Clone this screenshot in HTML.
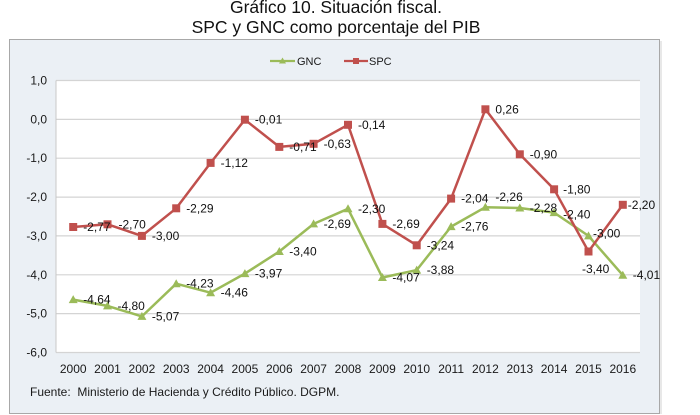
<!DOCTYPE html>
<html><head><meta charset="utf-8">
<style>
html,body{margin:0;padding:0;background:#fff;}
svg{display:block;font-family:"Liberation Sans",Arial,sans-serif;}
</style></head>
<body>
<svg width="700" height="415" viewBox="0 0 700 415" xmlns="http://www.w3.org/2000/svg">
<rect x="0" y="0" width="700" height="415" fill="#fff"/>
<text x="336" y="13" font-size="17.5" text-anchor="middle" fill="#111">Gráfico 10. Situación fiscal.</text>
<text x="336" y="33" font-size="17.5" text-anchor="middle" fill="#111">SPC y GNC como porcentaje del PIB</text>
<rect x="9.5" y="39.5" width="650" height="374" fill="#ebf0f5" stroke="#a8a8a8" stroke-width="1"/>
<line x1="661" y1="41" x2="661" y2="414" stroke="#d0d0d0" stroke-width="1"/>
<rect x="56" y="80.5" width="584" height="272" fill="#fff"/>
<g stroke="#d4d4d4" stroke-width="1.2">
<line x1="56" y1="80.5" x2="640" y2="80.5"/>
<line x1="56" y1="119.4" x2="640" y2="119.4"/>
<line x1="56" y1="158.2" x2="640" y2="158.2"/>
<line x1="56" y1="197.1" x2="640" y2="197.1"/>
<line x1="56" y1="235.9" x2="640" y2="235.9"/>
<line x1="56" y1="274.8" x2="640" y2="274.8"/>
<line x1="56" y1="313.6" x2="640" y2="313.6"/>
<line x1="56" y1="352.5" x2="640" y2="352.5"/>
</g>
<line x1="56" y1="80.5" x2="56" y2="352.5" stroke="#c8c8c8" stroke-width="1"/>
<g font-size="12" fill="#1a1a1a" text-anchor="end">
<text x="47" y="84.5">1,0</text>
<text x="47" y="123.4">0,0</text>
<text x="47" y="162.2">-1,0</text>
<text x="47" y="201.1">-2,0</text>
<text x="47" y="239.9">-3,0</text>
<text x="47" y="278.8">-4,0</text>
<text x="47" y="317.6">-5,0</text>
<text x="47" y="356.5">-6,0</text>
</g>
<g font-size="12" fill="#1a1a1a" text-anchor="middle">
<text x="73.2" y="373">2000</text>
<text x="107.5" y="373">2001</text>
<text x="141.9" y="373">2002</text>
<text x="176.2" y="373">2003</text>
<text x="210.6" y="373">2004</text>
<text x="244.9" y="373">2005</text>
<text x="279.3" y="373">2006</text>
<text x="313.6" y="373">2007</text>
<text x="348.0" y="373">2008</text>
<text x="382.4" y="373">2009</text>
<text x="416.7" y="373">2010</text>
<text x="451.1" y="373">2011</text>
<text x="485.4" y="373">2012</text>
<text x="519.8" y="373">2013</text>
<text x="554.1" y="373">2014</text>
<text x="588.5" y="373">2015</text>
<text x="622.8" y="373">2016</text>
</g>
<text x="30" y="396" font-size="12" fill="#1a1a1a" xml:space="preserve">Fuente:  Ministerio de Hacienda y Crédito Público. DGPM.</text>
<!-- legend -->
<line x1="270" y1="61" x2="295" y2="61" stroke="#9bbb59" stroke-width="2.2"/>
<path d="M282.5,57.5 L286,63.5 L279,63.5 Z" fill="#9bbb59"/>
<text x="297" y="65" font-size="11" fill="#1a1a1a">GNC</text>
<line x1="344" y1="61" x2="368" y2="61" stroke="#c0504d" stroke-width="2.2"/>
<rect x="353" y="58" width="6" height="6" fill="#c0504d"/>
<text x="369" y="65" font-size="11" fill="#1a1a1a">SPC</text>
<!-- GNC series -->
<polyline fill="none" stroke="#9bbb59" stroke-width="2.5" stroke-linejoin="round" points="73.2,299.6 107.5,305.9 141.9,316.4 176.2,283.7 210.6,292.7 244.9,273.6 279.3,251.5 313.6,223.9 348.0,208.8 382.4,277.5 416.7,270.1 451.1,226.6 485.4,207.2 519.8,208.0 554.1,212.6 588.5,235.9 622.8,275.2"/>
<g fill="#9bbb59">
<path d="M73.2,295.1 L77.7,303.1 L68.7,303.1 Z"/>
<path d="M107.5,301.4 L112,309.4 L103,309.4 Z"/>
<path d="M141.9,311.9 L146.4,319.9 L137.4,319.9 Z"/>
<path d="M176.2,279.2 L180.7,287.2 L171.7,287.2 Z"/>
<path d="M210.6,288.2 L215.1,296.2 L206.1,296.2 Z"/>
<path d="M244.9,269.1 L249.4,277.1 L240.4,277.1 Z"/>
<path d="M279.3,247 L283.8,255 L274.8,255 Z"/>
<path d="M313.6,219.4 L318.1,227.4 L309.1,227.4 Z"/>
<path d="M348.0,204.3 L352.5,212.3 L343.5,212.3 Z"/>
<path d="M382.4,273 L386.9,281 L377.9,281 Z"/>
<path d="M416.7,265.6 L421.2,273.6 L412.2,273.6 Z"/>
<path d="M451.1,222.1 L455.6,230.1 L446.6,230.1 Z"/>
<path d="M485.4,202.7 L489.9,210.7 L480.9,210.7 Z"/>
<path d="M519.8,203.5 L524.3,211.5 L515.3,211.5 Z"/>
<path d="M554.1,208.1 L558.6,216.1 L549.6,216.1 Z"/>
<path d="M588.5,231.4 L593,239.4 L584,239.4 Z"/>
<path d="M622.8,270.7 L627.3,278.7 L618.3,278.7 Z"/>
</g>
<!-- SPC series -->
<polyline fill="none" stroke="#c0504d" stroke-width="2.5" stroke-linejoin="round" points="73.2,227.0 107.5,224.3 141.9,235.9 176.2,208.3 210.6,162.9 244.9,119.7 279.3,146.9 313.6,143.8 348.0,124.8 382.4,223.9 416.7,245.3 451.1,198.6 485.4,109.3 519.8,154.3 554.1,189.3 588.5,251.5 622.8,204.8"/>
<g fill="#c0504d">
<rect x="69.2" y="223" width="8" height="8"/>
<rect x="103.5" y="220.3" width="8" height="8"/>
<rect x="137.9" y="231.9" width="8" height="8"/>
<rect x="172.2" y="204.3" width="8" height="8"/>
<rect x="206.6" y="158.9" width="8" height="8"/>
<rect x="240.9" y="115.7" width="8" height="8"/>
<rect x="275.3" y="142.9" width="8" height="8"/>
<rect x="309.6" y="139.8" width="8" height="8"/>
<rect x="344" y="120.8" width="8" height="8"/>
<rect x="378.4" y="219.9" width="8" height="8"/>
<rect x="412.7" y="241.3" width="8" height="8"/>
<rect x="447.1" y="194.6" width="8" height="8"/>
<rect x="481.4" y="105.3" width="8" height="8"/>
<rect x="515.8" y="150.3" width="8" height="8"/>
<rect x="550.1" y="185.3" width="8" height="8"/>
<rect x="584.5" y="247.5" width="8" height="8"/>
<rect x="618.8" y="200.8" width="8" height="8"/>
</g>
<!-- GNC labels -->
<g font-size="12" fill="#111">
<text x="83.2" y="303.6">-4,64</text>
<text x="117.5" y="309.9">-4,80</text>
<text x="151.9" y="320.4">-5,07</text>
<text x="186.2" y="287.7">-4,23</text>
<text x="220.6" y="296.7">-4,46</text>
<text x="254.9" y="277.6">-3,97</text>
<text x="289.3" y="255.5">-3,40</text>
<text x="323.6" y="227.9">-2,69</text>
<text x="358" y="212.8">-2,30</text>
<text x="392.4" y="281.5">-4,07</text>
<text x="426.7" y="274.1">-3,88</text>
<text x="461.1" y="230.6">-2,76</text>
<text x="495.4" y="201.2">-2,26</text>
<text x="529.8" y="212">-2,28</text>
<text x="563.1" y="218.6">-2,40</text>
<text x="593" y="237.5">-3,00</text>
<text x="632.8" y="279.2">-4,01</text>
</g>
<!-- SPC labels -->
<g font-size="12" fill="#111">
<text x="83.2" y="231">-2,77</text>
<text x="118.5" y="228.3">-2,70</text>
<text x="151.9" y="239.9">-3,00</text>
<text x="186.2" y="212.3">-2,29</text>
<text x="220.6" y="166.9">-1,12</text>
<text x="254.9" y="123.7">-0,01</text>
<text x="289.3" y="150.9">-0,71</text>
<text x="323.6" y="147.8">-0,63</text>
<text x="358" y="128.8">-0,14</text>
<text x="392.4" y="227.9">-2,69</text>
<text x="426.7" y="249.3">-3,24</text>
<text x="461.1" y="202.6">-2,04</text>
<text x="495.4" y="113.3">0,26</text>
<text x="529.8" y="158.3">-0,90</text>
<text x="563.1" y="193.3">-1,80</text>
<text x="582" y="273">-3,40</text>
<text x="627.8" y="208.8">-2,20</text>
</g>
</svg>
</body></html>
